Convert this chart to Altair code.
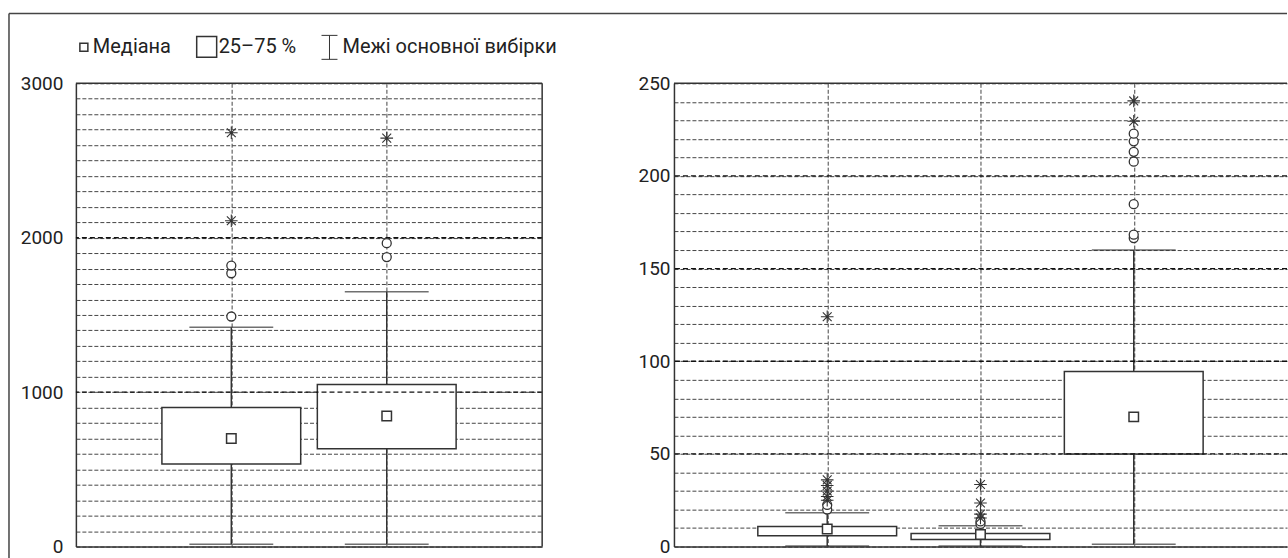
import altair as alt
import pandas as pd

# ---- left panel: two groups, scale 0..3000 ----
left_groups = ["1", "2"]
left_low = [15, 15]
left_q1 = [535, 633]
left_median = [700, 845]
left_q3 = [900, 1050]
left_high = [1420, 1650]
left_out_group = ["1", "1", "1", "2", "2"]
left_out_value = [1490, 1770, 1820, 1875, 1965]
left_ext_group = ["1", "1", "2"]
left_ext_value = [2110, 2680, 2645]
left_ticks = list(range(0, 3001, 100))
left_major = [1000, 2000]

# ---- right panel: three groups, scale 0..250 ----
right_groups = ["1", "2", "3"]
right_low = [0.3, 0.3, 1.2]
right_q1 = [5.9, 3.8, 50]
right_median = [9.5, 6.5, 70]
right_q3 = [10.9, 7.0, 94.5]
right_high = [18.3, 11.3, 160]
right_out_group = ["1", "1", "2", "2", "3", "3", "3", "3", "3", "3", "3"]
right_out_value = [20, 22.5, 12.2, 13.6, 166.5, 168.3, 184.8, 207.7, 213, 218.7, 222.8]
right_ext_group = ["1", "1", "1", "1", "1", "1", "2", "2", "2", "2", "3", "3"]
right_ext_value = [25, 27, 30, 33, 36, 124, 15.4, 17.5, 23.5, 33.5, 229.5, 240.5]
right_ticks = list(range(0, 251, 10))
right_major = [50, 100, 150, 200]

legend_labels = ["Медіана", "25–75 %", "Межі основної вибірки"]

FONT = "Roboto"
INK = "#333333"
GRID = "#444444"
STAR = "M0,-1L0,1M-1,0L1,0M-0.7,-0.7L0.7,0.7M-0.7,0.7L0.7,-0.7"

HEIGHT = 464
BOX_W = 139
CAP_W = 84


def panel(groups, low, q1, med, q3, high, og, ov, eg, ev, ymax, ticks, major,
          label_every, width, label_pad):
    stats = pd.DataFrame({"g": groups, "low": low, "q1": q1, "med": med,
                          "q3": q3, "high": high})
    outs = pd.DataFrame({"g": og, "v": ov})
    exts = pd.DataFrame({"g": eg, "v": ev})
    majors = pd.DataFrame({"v": major})
    one = pd.DataFrame({"k": [0]})

    xenc = alt.X(
        "g:O", sort=groups,
        scale=alt.Scale(type="point", padding=1, domain=groups),
        axis=alt.Axis(labels=False, ticks=False, title=None, grid=True,
                      gridDash=[4, 2], gridColor=GRID, gridWidth=1,
                      domain=True, domainColor=INK, domainWidth=1.5),
    )
    yscale = alt.Scale(domain=[0, ymax], nice=False, zero=True)
    yaxis = alt.Axis(
        values=ticks, title=None, ticks=False, grid=True, gridDash=[4, 2],
        gridColor=GRID, gridWidth=1, domain=True, domainColor=INK,
        domainWidth=1.5, labelOverlap=False, format="d",
        labelExpr=f"datum.value % {label_every} === 0 ? datum.label : ''",
        labelFont=FONT, labelFontSize=19, labelColor="#222222",
        labelPadding=label_pad,
    )

    base = alt.Chart(stats)
    lower_whisker = base.mark_rule(color=INK, strokeWidth=1.5).encode(
        x=xenc, y=alt.Y("low:Q", scale=yscale, axis=yaxis), y2="q1:Q")
    upper_whisker = base.mark_rule(color=INK, strokeWidth=1.5).encode(
        x=xenc, y=alt.Y("q3:Q", scale=yscale, axis=yaxis), y2="high:Q")
    low_cap = base.mark_tick(color=INK, size=CAP_W, thickness=1.5).encode(
        x=xenc, y=alt.Y("low:Q", scale=yscale, axis=yaxis))
    high_cap = base.mark_tick(color=INK, size=CAP_W, thickness=1.5).encode(
        x=xenc, y=alt.Y("high:Q", scale=yscale, axis=yaxis))
    box = base.mark_bar(size=BOX_W, fill="white", stroke=INK,
                        strokeWidth=1.5).encode(
        x=xenc, y=alt.Y("q1:Q", scale=yscale, axis=yaxis), y2="q3:Q")
    median = base.mark_point(shape="square", size=90, filled=True,
                             fill="white", stroke=INK, strokeWidth=1.5,
                             opacity=1).encode(
        x=xenc, y=alt.Y("med:Q", scale=yscale, axis=yaxis))
    major_lines = alt.Chart(majors).mark_rule(
        color="#111111", strokeWidth=1.3, strokeDash=[5, 3]).encode(
        y=alt.Y("v:Q", scale=yscale, axis=yaxis))
    circles = alt.Chart(outs).mark_point(
        shape="circle", size=81, filled=True, fill="white", stroke=INK,
        strokeWidth=1.3, opacity=1).encode(
        x=xenc, y=alt.Y("v:Q", scale=yscale, axis=yaxis))
    stars = alt.Chart(exts).mark_point(
        shape=STAR, size=160, filled=False, stroke=INK, strokeWidth=1.1,
        opacity=1).encode(
        x=xenc, y=alt.Y("v:Q", scale=yscale, axis=yaxis))
    top_border = alt.Chart(one).mark_rule(color=INK, strokeWidth=1.5).encode(
        x=alt.value(0), x2=alt.value(width), y=alt.value(0))

    layers = [lower_whisker, upper_whisker, low_cap, high_cap, box, median,
              major_lines, circles, stars, top_border]
    return layers, one


# left panel with legend and the outer frame
LEFT_W = 467
RIGHT_W = 614
GAP = 132

left_layers, one = panel(left_groups, left_low, left_q1, left_median, left_q3,
                         left_high, left_out_group, left_out_value,
                         left_ext_group, left_ext_value, 3000, left_ticks,
                         left_major, 1000, LEFT_W, 13)

frame = alt.Chart(one)
right_border = frame.mark_rule(color=INK, strokeWidth=1.5).encode(
    x=alt.value(LEFT_W), y=alt.value(0), y2=alt.value(HEIGHT))
frame_left = frame.mark_rule(color="#444444", strokeWidth=1.5).encode(
    x=alt.value(-67), y=alt.value(-70), y2=alt.value(HEIGHT + 12))
frame_top = frame.mark_rule(color="#444444", strokeWidth=1.5).encode(
    x=alt.value(-67), x2=alt.value(LEFT_W + GAP + RIGHT_W), y=alt.value(-70))

LEG_Y = -36
leg_median = frame.mark_point(shape="square", size=64, filled=True,
                              fill="white", stroke=INK, strokeWidth=1.5,
                              opacity=1).encode(
    x=alt.value(8), y=alt.value(LEG_Y))
leg_box = frame.mark_rect(fill="white", stroke=INK, strokeWidth=1.5).encode(
    x=alt.value(121), x2=alt.value(141), y=alt.value(-47), y2=alt.value(-26))
leg_stem = frame.mark_rule(color=INK, strokeWidth=1).encode(
    x=alt.value(254), y=alt.value(-48), y2=alt.value(-24))
leg_cap_top = frame.mark_rule(color=INK, strokeWidth=1).encode(
    x=alt.value(246), x2=alt.value(262), y=alt.value(-48))
leg_cap_bot = frame.mark_rule(color=INK, strokeWidth=1).encode(
    x=alt.value(246), x2=alt.value(262), y=alt.value(-24))


def leg_text(label, xpos):
    return frame.mark_text(align="left", baseline="middle", font=FONT,
                           fontSize=20, color="#222222").encode(
        x=alt.value(xpos), y=alt.value(LEG_Y), text=alt.value(label))


legend_marks = [leg_median, leg_text(legend_labels[0], 17), leg_box,
                leg_text(legend_labels[1], 143), leg_stem, leg_cap_top,
                leg_cap_bot, leg_text(legend_labels[2], 267)]

left = alt.layer(*left_layers, right_border, frame_left, frame_top,
                 *legend_marks).properties(width=LEFT_W, height=HEIGHT)

right_layers, _ = panel(right_groups, right_low, right_q1, right_median,
                        right_q3, right_high, right_out_group, right_out_value,
                        right_ext_group, right_ext_value, 250, right_ticks,
                        right_major, 50, RIGHT_W, 4)
right = alt.layer(*right_layers).properties(width=RIGHT_W, height=HEIGHT)

chart = alt.hconcat(left, right, spacing=GAP, bounds="flush").properties(
    padding={"left": 8, "top": 12, "right": 0, "bottom": 0},
    background="white",
).configure_view(stroke=None)

chart.save("out.html", embed_options={"renderer": "svg", "actions": False})
